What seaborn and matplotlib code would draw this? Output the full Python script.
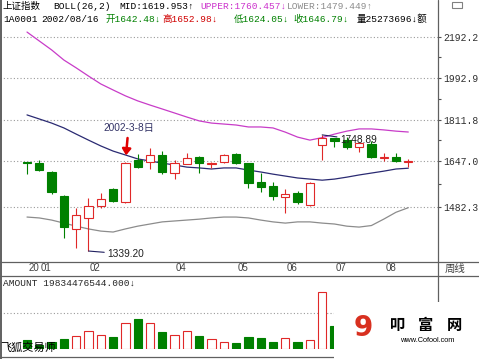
import numpy as np
import pandas as pd
import matplotlib
matplotlib.use("Agg")
import matplotlib.pyplot as plt
import matplotlib.transforms as mtrans
import seaborn as sns
from matplotlib.patches import Rectangle
from matplotlib.ticker import FixedLocator, NullFormatter

# weekly candles of 上证指数, 2002 (first = week of Jan 11, last = Aug 16)
opens = [1643, 1639, 1606, 1520, 1408, 1445, 1485, 1544, 1499, 1651, 1643, 1670,
         1602, 1636, 1662, 1637, 1643, 1674, 1639, 1569, 1555, 1516, 1530, 1488,
         1709, 1736, 1728, 1701, 1713, 1660, 1662, 1642.48]
highs = [1644, 1650, 1609, 1522, 1478, 1512, 1530, 1548, 1642, 1674, 1697, 1685,
         1651, 1678, 1665, 1643, 1673, 1676, 1641, 1602, 1569, 1544, 1537, 1568,
         1748.89, 1738, 1740, 1720, 1724, 1678, 1678, 1652.98]
lows = [1597, 1610, 1527, 1380, 1349, 1339.20, 1480, 1500, 1495, 1622, 1617, 1598,
        1580, 1634, 1602, 1620, 1641, 1637, 1548, 1534, 1506, 1461, 1492, 1485,
        1651, 1701, 1693, 1681, 1660, 1647, 1645, 1624.05]
closes = [1640, 1613, 1534, 1415, 1455, 1485, 1509, 1502, 1639, 1624, 1670, 1606,
          1639, 1658, 1639, 1640, 1670, 1640, 1566, 1551, 1520, 1527, 1499, 1566,
          1736, 1724, 1701, 1717, 1662, 1663, 1647, 1646.79]
# weekly turnover, 亿元
amount = [180, 80, 140, 200, 260, 360, 280, 240, 520, 600, 520, 340, 280, 360, 260,
          200, 140, 120, 240, 220, 140, 220, 140, 180, 1140, 460, 300, 250, 220, 200,
          180, 198.34]

# BOLL(26,2)
mid = [1831, 1814, 1797, 1777, 1752, 1728, 1705, 1685, 1670, 1655, 1647, 1639,
       1632, 1624, 1621, 1617, 1621, 1621, 1613, 1606, 1598, 1591, 1584, 1580,
       1576, 1580, 1587, 1595, 1602, 1609, 1617, 1619.953]
upper = [2215, 2170, 2126, 2077, 2040, 2002, 1966, 1939, 1913, 1891, 1873, 1856,
         1839, 1822, 1806, 1797, 1793, 1789, 1781, 1781, 1777, 1760, 1740, 1728,
         1738, 1752, 1764, 1773, 1773, 1769, 1764, 1760.457]
lower = [1448, 1445, 1438, 1428, 1418, 1409, 1402, 1399, 1409, 1418, 1425, 1432,
         1435, 1438, 1441, 1445, 1448, 1448, 1445, 1438, 1432, 1428, 1432, 1432,
         1428, 1425, 1418, 1415, 1420, 1441, 1464, 1479.449]

price_ticks = [1482.3, 1647.0, 1811.8, 1992.9, 2192.2]
date_pos = [0, 1, 5, 12, 17, 21, 25, 29]
date_labels = ["20", "01", "02", "04", "05", "06", "07", "08"]

W, H = 479, 359
GREEN = "#008000"
RED = "#e02828"
MONO = ["Liberation Mono", "Noto Sans CJK SC", "DejaVu Sans"]
SANS = ["Liberation Sans", "Noto Sans CJK SC", "DejaVu Sans"]

sns.set_style("white")
plt.rcParams["font.family"] = MONO

fig = plt.figure(figsize=(W / 100, H / 100), dpi=100)
fig.patch.set_facecolor("white")


def box(l, t, r, b):
    return [l / W, 1 - b / H, (r - l) / W, (b - t) / H]


ax = fig.add_axes(box(0, 25, 438, 262))
vax = fig.add_axes(box(0, 276, 438, 349))
ov = fig.add_axes([0, 0, 1, 1], zorder=10)
ov.set_xlim(0, W)
ov.set_ylim(H, 0)
ov.axis("off")

n = len(closes)
idx = np.arange(n)
o, c = np.array(opens), np.array(closes)
hi, lo = np.array(highs), np.array(lows)
amt = np.array(amount)
up = c >= o
XLIM = (-2.195, 33.415)

# Bollinger bands
bands = pd.DataFrame({
    "week": np.tile(idx, 3),
    "value": mid + upper + lower,
    "band": ["MID"] * n + ["UPPER"] * n + ["LOWER"] * n,
})
sns.lineplot(data=bands, x="week", y="value", hue="band", errorbar=None,
             palette={"MID": "#2a2a72", "UPPER": "#c83cc8", "LOWER": "#8c8c8c"},
             legend=False, linewidth=0.9, ax=ax, zorder=1)

# candles
ax.vlines(idx[up], lo[up], hi[up], color=RED, lw=0.8, zorder=2)
ax.vlines(idx[~up], lo[~up], hi[~up], color=GREEN, lw=0.8, zorder=2)
ax.bar(idx[up], (c - o)[up], bottom=o[up], width=0.68, facecolor="white",
       edgecolor=RED, lw=0.8, zorder=3)
ax.bar(idx[~up], (o - c)[~up], bottom=c[~up], width=0.68, facecolor=GREEN,
       edgecolor=GREEN, lw=0.8, zorder=3)

ax.set_yscale("log")
ax.set_ylim(1305.9, 2251.2)
ax.set_xlim(*XLIM)
ax.set_xlabel("")
ax.set_ylabel("")
ax.yaxis.tick_right()
ax.set_yticks(price_ticks)
ax.set_yticklabels([f"{v:.1f}" for v in price_ticks])
minor = [np.sqrt(a * b) for a, b in zip(price_ticks[:-1], price_ticks[1:])]
ax.yaxis.set_minor_locator(FixedLocator(minor))
ax.yaxis.set_minor_formatter(NullFormatter())
ax.tick_params(axis="y", which="both", direction="out", length=2.5, width=0.8,
               color="#505050", pad=1, labelsize=7, labelcolor="#303030",
               right=True, left=False)
ax.set_xticks(date_pos)
ax.tick_params(axis="x", direction="out", length=6.5, width=0.8, color="#606060",
               labelbottom=False)
ax.grid(True, axis="y", which="major", ls=(0, (1, 2)), color="#9a9a9a", lw=0.8)
ax.grid(False, axis="x")
for s in ax.spines.values():
    s.set_visible(False)

blend = mtrans.blended_transform_factory(ax.transData, ax.transAxes)
for p, lab in zip(date_pos, date_labels):
    ax.text(p + 0.12, -0.026, lab, transform=blend, ha="left", va="center",
            fontsize=7, family=SANS, color="#404040", clip_on=False)

# annotations
ax.annotate("1339.20", xy=(5, lows[5]), xytext=(19, -3), textcoords="offset pixels",
            ha="left", va="center", fontsize=7.3, family=SANS, color="#202020",
            arrowprops=dict(arrowstyle="-", color="#202060", lw=0.8,
                            shrinkA=0, shrinkB=0))
ax.annotate("1748.89", xy=(24, highs[24]), xytext=(18, -5), textcoords="offset pixels",
            ha="left", va="center", fontsize=7.3, family=SANS, color="#202020",
            arrowprops=dict(arrowstyle="-", color="#202060", lw=0.8,
                            shrinkA=0, shrinkB=0))
ax.annotate("2002-3-8日", xy=(8, highs[8]), xytext=(3, 34), textcoords="offset pixels",
            ha="center", va="center", fontsize=7.3, family=SANS, color="#333366",
            arrowprops=dict(arrowstyle="-|>,head_width=0.35,head_length=0.5",
                            color="#e00000", lw=1.8, shrinkA=1, shrinkB=5))

# turnover panel
vax.bar(idx[up], amt[up], width=0.68, facecolor="white", edgecolor=RED, lw=0.8)
vax.bar(idx[~up], amt[~up], width=0.68, facecolor=GREEN, edgecolor=GREEN, lw=0.8)
vax.set_xlim(*XLIM)
vax.set_ylim(0, 1460)
vax.set_yticks([720])
vax.set_xticks([])
vax.tick_params(length=0, labelleft=False, labelbottom=False)
vax.grid(True, axis="y", ls=(0, (1, 2)), color="#9a9a9a", lw=0.8)
for s in vax.spines.values():
    s.set_visible(False)

# frame
fc = "#606060"
ov.plot([0.7, 0.7], [0, H], color=fc, lw=1.4)
ov.plot([438, 438], [0, H], color=fc, lw=0.9)
for yy in (261.5, 275.5, 357):
    ov.plot([0, W], [yy, yy], color=fc, lw=0.9)
ov.add_patch(Rectangle((452, 2), 10, 6, facecolor="white", edgecolor="#808080", lw=0.8))

# header rows
row1 = [("上证指数", 3, "black"), ("BOLL(26,2)", 53, "black"),
        ("MID:1619.953↑", 119, "black"), ("UPPER:1760.457↓", 200, "#cc33cc"),
        ("LOWER:1479.449↑", 287, "#8c8c8c")]
row2 = [("1A0001", 3, "black"), ("2002/08/16", 41, "black"),
        ("开1642.48↓", 106, GREEN), ("高1652.98↓", 162, "#d00000"),
        ("低1624.05↓", 234, GREEN), ("收1646.79↓", 293, GREEN),
        ("量25273696↓额", 357, "black")]
for txt, x, col in row1:
    ov.text(x, 6.5, txt, color=col, fontsize=6.8, ha="left", va="center")
for txt, x, col in row2:
    ov.text(x, 19.5, txt, color=col, fontsize=6.8, ha="left", va="center")

ov.text(3, 283, "AMOUNT 19834476544.000↓", fontsize=6.8, ha="left", va="center")
ov.text(445, 268.5, "周线", fontsize=7.5, color="#404040", ha="left", va="center",
        family=["Noto Sans CJK SC"])
ov.text(0, 348, "飞狐交易师", fontsize=8, color="black", ha="left", va="center",
        family=["Noto Sans CJK SC"])

# watermark
ov.add_patch(Rectangle((334, 302), 145, 57, facecolor="white", edgecolor="none", zorder=5))
ov.text(363, 328, "9", fontsize=20, fontweight="bold", color="#d83020",
        family=["DejaVu Sans"], ha="center", va="center", zorder=6)
for ch, x in zip("叩富网", (398, 426, 454)):
    ov.text(x, 325, ch, fontsize=11, fontweight="bold", color="black",
            family=["Noto Sans CJK SC"], ha="center", va="center", zorder=6)
ov.text(427, 340, "www.Cofool.com", fontsize=5.3, color="black", family=SANS,
        ha="center", va="center", zorder=6)

fig.savefig("out.png", dpi=100)
